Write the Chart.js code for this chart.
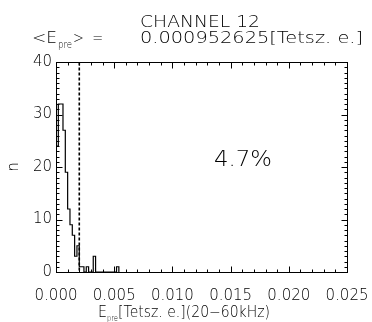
<!DOCTYPE html>
<html>
<head>
<meta charset="utf-8">
<script src="https://cdn.jsdelivr.net/npm/chart.js@4.4.0/dist/chart.umd.min.js"></script>
<style>
  body { margin: 0; background: #fff; }
  canvas { display: block; }
</style>
</head>
<body>
<canvas id="myChart" width="372" height="322"></canvas>
<script>
// histogram bins (left edge of each bin) and counts
const binEdges = [0, 0.0002, 0.0004, 0.0006, 0.0008, 0.0010, 0.0012, 0.0014, 0.0016, 0.0018,
  0.0020, 0.0022, 0.0024, 0.0026, 0.0028, 0.0030, 0.0032, 0.0034, 0.0036, 0.0038,
  0.0040, 0.0042, 0.0044, 0.0046, 0.0048, 0.0050, 0.0052, 0.0054];
const counts = [24, 32, 32, 27, 19, 12, 9, 7, 3, 5,
  1, 1, 0, 1, 0, 0, 3, 0, 0, 0,
  0, 0, 0, 0, 0, 0, 1, 0];
const threshold = 0.002;
const xTicks = [0, 0.005, 0.01, 0.015, 0.02, 0.025];
const yTicks = [0, 10, 20, 30, 40];
const titleText = "CHANNEL 12";
const meanText = "0.000952625[Tetsz. e.]";
const percentText = "4.7%";

const FONT = "'DejaVu Sans', sans-serif";
const WEIGHT = 200;
const ctx = document.getElementById("myChart");

var points = [];
for (let i = 0; i < binEdges.length; i++) {
  points.push({ x: binEdges[i], y: counts[i] });
}

// draw text squeezed/stretched to a given width
function fitText(c, str, x, y, width, size) {
  c.save();
  c.font = WEIGHT + " " + size + "px " + FONT;
  var w = c.measureText(str).width;
  c.translate(x, y);
  c.scale(width / w, 1);
  c.textAlign = "left";
  c.textBaseline = "alphabetic";
  c.fillText(str, 0, 0);
  c.restore();
}

const idlFrame = {
  id: "idlFrame",
  afterDraw(chart) {
    var c = chart.ctx;
    var a = chart.chartArea;
    var xs = chart.scales.x;
    var ys = chart.scales.y;
    var L = Math.round(a.left) + 0.5, R = Math.round(a.right) + 0.5;
    var T = Math.round(a.top) + 0.5, B = Math.round(a.bottom) + 0.5;
    c.save();
    c.strokeStyle = "#000";
    c.fillStyle = "#000";
    c.lineWidth = 1;
    c.strokeRect(L, T, R - L, B - T);

    // inward ticks
    c.beginPath();
    for (let i = 0; i <= 40; i++) {
      var py = Math.round(ys.getPixelForValue(i)) + 0.5;
      var len = i % 10 === 0 ? 6 : 3;
      c.moveTo(L, py); c.lineTo(L + len, py);
      c.moveTo(R, py); c.lineTo(R - len, py);
    }
    for (let i = 0; i <= 25; i++) {
      var px = Math.round(xs.getPixelForValue(i / 1000)) + 0.5;
      var len2 = i % 5 === 0 ? 6 : 3;
      c.moveTo(px, B); c.lineTo(px, B - len2);
      c.moveTo(px, T); c.lineTo(px, T + len2);
    }
    c.stroke();

    // threshold dashed line
    var tx = xs.getPixelForValue(threshold);
    c.beginPath();
    c.lineWidth = 1.6;
    c.setLineDash([3, 2]);
    c.moveTo(tx, T);
    c.lineTo(tx, B);
    c.stroke();
    c.setLineDash([]);

    // titles
    fitText(c, titleText, 140, 27, 120, 15);
    fitText(c, "<E", 32, 43, 25, 15);
    fitText(c, "pre", 58, 48, 14, 10);
    fitText(c, ">  =", 73, 43, 30, 15);
    fitText(c, meanText, 140, 43, 223, 15);

    // percentage
    fitText(c, percentText, 214, 166, 58, 21);

    // x axis title
    fitText(c, "E", 98, 317, 9, 15);
    fitText(c, "pre", 107, 321, 11, 9);
    fitText(c, "[Tetsz. e.](20\u221260kHz)", 118, 317, 152, 15);

    // y axis title
    c.save();
    c.translate(18, 167);
    c.rotate(-Math.PI / 2);
    c.font = WEIGHT + " 15px " + FONT;
    c.textAlign = "center";
    c.fillText("n", 0, 0);
    c.restore();
    c.restore();
  },
};

new Chart(ctx, {
  type: "line",
  data: {
    datasets: [
      {
        label: "n",
        data: points,
        stepped: true,
        borderColor: "#000",
        borderWidth: 1.2,
        pointRadius: 0,
        fill: false,
      },
    ],
  },
  options: {
    responsive: false,
    animation: false,
    devicePixelRatio: 1,
    layout: { padding: { top: 62, right: 25, left: 0, bottom: 0 } },
    plugins: {
      legend: { display: false },
      title: { display: false },
      tooltip: { enabled: false },
    },
    scales: {
      x: {
        type: "linear",
        min: 0,
        max: 0.025,
        grid: { display: false, drawTicks: false },
        border: { display: false },
        afterBuildTicks: function (scale) {
          scale.ticks = xTicks.map(function (v) { return { value: v }; });
        },
        afterFit: function (scale) {
          scale.height = 50;
          scale.paddingLeft = 0;
          scale.paddingRight = 0;
        },
        ticks: {
          color: "#000",
          font: { family: FONT, size: 15, weight: WEIGHT },
          padding: 15,
          maxRotation: 0,
          autoSkip: false,
          callback: function (v) { return Number(v).toFixed(3); },
        },
      },
      y: {
        min: 0,
        max: 40,
        grid: { display: false, drawTicks: false },
        border: { display: false },
        afterBuildTicks: function (scale) {
          scale.ticks = yTicks.map(function (v) { return { value: v }; });
        },
        afterFit: function (scale) {
          scale.width = 56;
          scale.paddingTop = 0;
          scale.paddingBottom = 0;
        },
        ticks: {
          color: "#000",
          font: { family: FONT, size: 15, weight: WEIGHT },
          padding: 4,
          callback: function (v) { return String(v); },
        },
      },
    },
  },
  plugins: [idlFrame],
});
</script>
</body>
</html>
